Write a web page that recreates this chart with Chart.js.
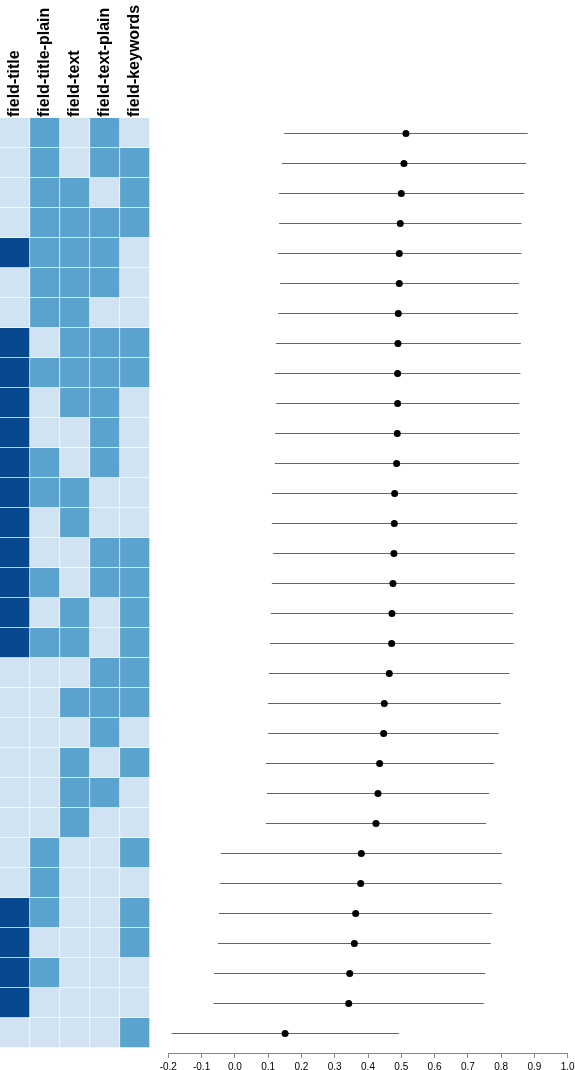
<!DOCTYPE html>
<html>
<head>
<meta charset="utf-8">
<script src="https://cdn.jsdelivr.net/npm/chart.js@4"></script>
<style>
  body { margin: 0; background: #fff; }
  #wrap { position: relative; width: 575px; height: 1070px; }
  #heat { position: absolute; left: 0; top: 0; }
  #forest { position: absolute; left: 150px; top: 0; }
</style>
</head>
<body>
<div id="wrap">
  <canvas id="heat" width="150" height="1070"></canvas>
  <canvas id="forest" width="425" height="1070"></canvas>
</div>
<script>
  const fields = ["field-title", "field-title-plain", "field-text", "field-text-plain", "field-keywords"];

  // 1 = field used in that model, 0 = not used (one entry per row, top to bottom)
  const fieldTitle      = [0,0,0,0,1,0,0,1,1,1,1,1,1,1,1,1,1,1,0,0,0,0,0,0,0,0,1,1,1,1,0];
  const fieldTitlePlain = [1,1,1,1,1,1,1,0,1,0,0,1,1,0,0,1,0,1,0,0,0,0,0,0,1,1,1,0,1,0,0];
  const fieldText       = [0,0,1,1,1,1,1,1,1,1,0,0,1,1,0,0,1,1,0,1,0,1,1,1,0,0,0,0,0,0,0];
  const fieldTextPlain  = [1,1,0,1,1,1,0,1,1,1,1,1,0,0,1,1,0,0,1,1,1,0,1,0,0,0,0,0,0,0,0];
  const fieldKeywords   = [0,1,1,1,0,0,0,1,1,0,0,0,0,0,1,1,1,1,1,1,0,1,0,0,1,0,1,1,0,0,1];

  const estimate = [0.514,0.508,0.500,0.497,0.494,0.494,0.491,0.490,0.489,0.489,0.488,0.486,0.480,0.479,0.478,0.475,
                    0.472,0.471,0.464,0.449,0.447,0.435,0.430,0.424,0.380,0.378,0.363,0.359,0.345,0.342,0.151];
  const lower    = [0.148,0.141,0.132,0.133,0.129,0.136,0.130,0.123,0.120,0.124,0.121,0.120,0.111,0.111,0.115,0.111,
                    0.108,0.105,0.102,0.099,0.100,0.093,0.096,0.093,-0.042,-0.045,-0.048,-0.051,-0.062,-0.064,-0.190];
  const upper    = [0.880,0.875,0.869,0.861,0.861,0.853,0.852,0.859,0.858,0.854,0.855,0.854,0.849,0.848,0.841,0.841,
                    0.836,0.837,0.825,0.799,0.793,0.779,0.764,0.755,0.802,0.802,0.772,0.769,0.752,0.748,0.493];

  const xTicks = [-0.2, -0.1, 0.0, 0.1, 0.2, 0.3, 0.4, 0.5, 0.6, 0.7, 0.8, 0.9, 1.0];

  const rowLabels = estimate.map((_, i) => "model " + (i + 1));
  const columns = [fieldTitle, fieldTitlePlain, fieldText, fieldTextPlain, fieldKeywords];

  const LIGHT = "#d1e2f3";
  const MID = "#5ba3cf";
  const DARK = "#08488e";

  Chart.defaults.font.family = "'Liberation Sans', Arial, Helvetica, sans-serif";
  Chart.defaults.color = "#000";

  function noScalePadding(scale) {
    scale.paddingLeft = 0;
    scale.paddingRight = 0;
  }

  // heatmap: one stacked horizontal bar per field
  new Chart(document.getElementById("heat"), {
    type: "bar",
    data: {
      labels: rowLabels,
      datasets: columns.map((col, j) => ({
        label: fields[j],
        data: col.map(() => 1),
        backgroundColor: col.map((v) => (v ? (j === 0 ? DARK : MID) : LIGHT)),
        borderColor: "#fff",
        borderWidth: { top: 0, left: 0, right: 1, bottom: 1 },
        borderSkipped: false,
        barPercentage: 1,
        categoryPercentage: 1,
      })),
    },
    options: {
      indexAxis: "y",
      responsive: false,
      animation: false,
      layout: { padding: { left: 0, right: 0, top: 0, bottom: 22 } },
      plugins: { legend: { display: false }, tooltip: { enabled: false } },
      scales: {
        x: { stacked: true, min: 0, max: fields.length, display: false },
        y: { stacked: true, display: false },
        top: {
          type: "category",
          axis: "x",
          position: "top",
          labels: fields,
          offset: true,
          grid: { display: false, drawTicks: false },
          border: { display: false },
          ticks: {
            autoSkip: false,
            minRotation: 90,
            maxRotation: 90,
            padding: 1,
            labelOffset: 19,
            font: { size: 16, weight: "bold" },
            color: "#000",
          },
          afterFit: (scale) => {
            scale.height = 118;
            noScalePadding(scale);
          },
        },
      },
    },
  });

  // forest plot: interval lines plus point estimates
  const intervals = estimate.map((_, i) => ({
    type: "line",
    data: [
      { x: lower[i], y: i },
      { x: upper[i], y: i },
    ],
    borderColor: "#666",
    borderWidth: 1,
    pointRadius: 0,
    order: 2,
  }));

  new Chart(document.getElementById("forest"), {
    type: "scatter",
    data: {
      datasets: [
        ...intervals,
        {
          type: "scatter",
          data: estimate.map((v, i) => ({ x: v, y: i })),
          backgroundColor: "#000",
          borderWidth: 0,
          pointRadius: 3.5,
          order: 1,
        },
      ],
    },
    options: {
      responsive: false,
      animation: false,
      layout: { padding: { left: 18.3, right: 7.3, top: 118, bottom: 0 } },
      plugins: { legend: { display: false }, tooltip: { enabled: false } },
      scales: {
        x: {
          type: "linear",
          min: xTicks[0],
          max: xTicks[xTicks.length - 1],
          afterBuildTicks: (scale) => {
            scale.ticks = xTicks.map((v) => ({ value: v }));
          },
          grid: { drawOnChartArea: false, drawTicks: true, tickLength: 5, color: "#888" },
          border: { display: true, color: "#888" },
          ticks: {
            padding: 3,
            font: { size: 10 },
            color: "#000",
            callback: (v) => v.toFixed(1),
          },
          afterFit: (scale) => {
            scale.height = 17;
            noScalePadding(scale);
          },
        },
        y: {
          type: "linear",
          reverse: true,
          min: -0.517,
          max: 30.65,
          display: false,
        },
      },
    },
  });
</script>
</body>
</html>
